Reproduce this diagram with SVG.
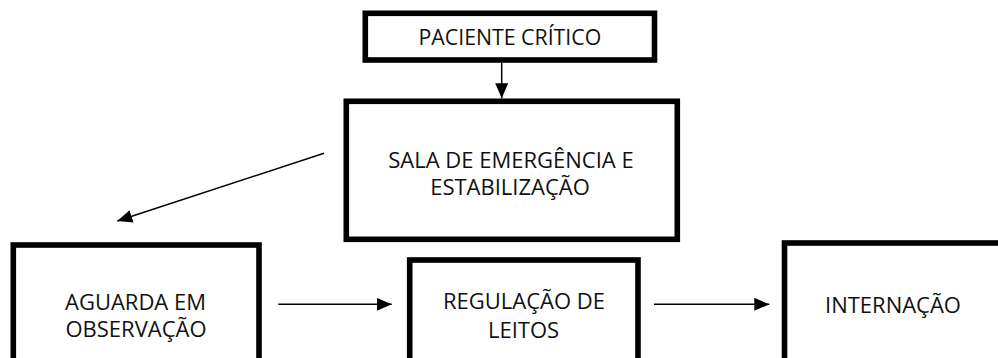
<svg xmlns="http://www.w3.org/2000/svg" width="998" height="358" viewBox="0 0 998 358">
  <style>
    .box { fill: #ffffff; stroke: #000000; stroke-width: 5.6; }
    .lbl { font-family: "Open Sans", "Noto Sans", sans-serif; font-size: 22px; fill: #111111; text-anchor: middle; }
    .conn { stroke: #000000; stroke-width: 1.5; fill: none; marker-end: url(#arrow); }
  </style>
  <defs>
    <marker id="arrow" markerUnits="userSpaceOnUse" markerWidth="15" markerHeight="13" refX="15" refY="6.5" orient="auto">
      <path d="M0,0 L15,6.5 L0,13 Z" fill="#000000"/>
    </marker>
  </defs>
  <rect width="998" height="358" fill="#ffffff"/>

  <g id="paciente-critico">
    <rect class="box" x="365.3" y="13.3" width="289.2" height="46.7"/>
    <text class="lbl" x="509.9" y="45" style="font-size:21.3px">PACIENTE CRÍTICO</text>
  </g>

  <g id="sala-emergencia">
    <rect class="box" x="346.3" y="101.3" width="331" height="138"/>
    <text class="lbl" x="511" y="167.8">SALA DE EMERGÊNCIA E</text>
    <text class="lbl" x="510" y="195.4">ESTABILIZAÇÃO</text>
  </g>

  <g id="aguarda-observacao">
    <rect class="box" x="13.3" y="245" width="245.7" height="130"/>
    <text class="lbl" x="135.5" y="309.5">AGUARDA EM</text>
    <text class="lbl" x="136" y="337">OBSERVAÇÃO</text>
  </g>

  <g id="regulacao-leitos">
    <rect class="box" x="409.7" y="260" width="228.3" height="120"/>
    <text class="lbl" x="524" y="308.5">REGULAÇÃO DE</text>
    <text class="lbl" x="523.5" y="337.8">LEITOS</text>
  </g>

  <g id="internacao">
    <rect class="box" x="784.5" y="243" width="250" height="140"/>
    <text class="lbl" x="893" y="312.5">INTERNAÇÃO</text>
  </g>

  <g id="connectors">
    <line class="conn" x1="501.7" y1="62.7" x2="501.7" y2="98.3"/>
    <line class="conn" x1="324" y1="153.3" x2="117.3" y2="221"/>
    <line class="conn" x1="278.3" y1="304.3" x2="391.7" y2="304.3"/>
    <line class="conn" x1="654" y1="304.3" x2="769.3" y2="304.3"/>
  </g>
</svg>
